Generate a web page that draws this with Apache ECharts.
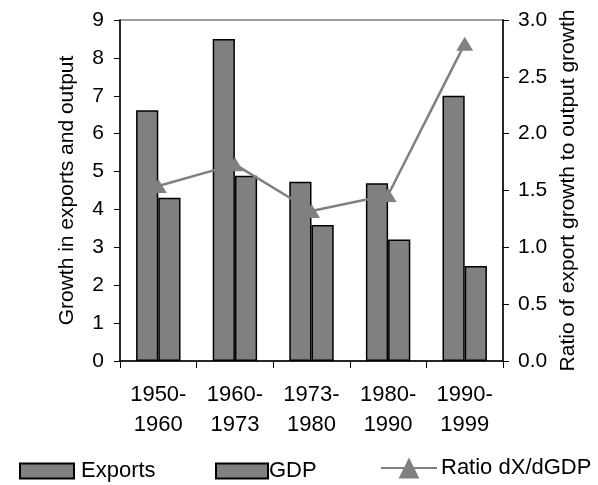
<!DOCTYPE html>
<html>
<head>
<meta charset="utf-8">
<script src="https://cdn.jsdelivr.net/npm/echarts@6/dist/echarts.min.js"></script>
<style>html,body{margin:0;padding:0;background:#fff;}#c{width:598px;height:485px;}</style>
</head>
<body>
<div id="c"></div>
<script>
const categories = ['1950-\n1960', '1960-\n1973', '1973-\n1980', '1980-\n1990', '1990-\n1999'];
const exportsGrowth = [6.62, 8.5, 4.73, 4.69, 7.0];
const gdpGrowth = [4.31, 4.89, 3.59, 3.21, 2.51];
const ratio = [1.54, 1.73, 1.32, 1.46, 2.79];
const leftTicks = [0, 9, 1];
const rightTicks = [0, 3, 0.5];

const font = 'Liberation Sans, Arial, sans-serif';
const chart = echarts.init(document.getElementById('c'));
const barStyle = { color: '#808080', borderColor: '#000', borderWidth: 1.5 };
const legText = { fontFamily: font, fontSize: 22, color: '#000' };
chart.setOption({
  animation: false,
  textStyle: { fontFamily: font },
  grid: { left: 120, right: 95, top: 20, bottom: 124, show: true, borderColor: '#808080', borderWidth: 1.5, backgroundColor: 'transparent' },
  legend: [
    { data: [{ name: 'Exports', icon: 'rect' }], left: 14, top: 455, itemWidth: 54, itemHeight: 15, textStyle: Object.assign({}, legText, { padding: [0,0,0,2] }) },
    { data: [{ name: 'GDP', icon: 'rect' }], left: 210, top: 455, itemWidth: 52, itemHeight: 15, textStyle: Object.assign({}, legText, { padding: [0,0,0,-4] }) },
    { data: ['Ratio dX/dGDP'], left: 375, top: 452, itemWidth: 56, itemHeight: 26, textStyle: Object.assign({}, legText, { padding: [0,0,0,-1] }) }
  ],
  xAxis: {
    type: 'category', data: categories,
    axisLine: { lineStyle: { color: '#000', width: 1.5 } },
    axisTick: { show: true, length: 7, lineStyle: { color: '#000' } },
    axisLabel: { color: '#000', fontSize: 22, lineHeight: 30, margin: 19, fontFamily: font }
  },
  yAxis: [
    {
      type: 'value', min: leftTicks[0], max: leftTicks[1], interval: leftTicks[2],
      name: 'Growth in exports and output', nameLocation: 'middle', nameGap: 42,
      nameTextStyle: { color: '#000', fontSize: 21, fontFamily: font },
      axisLine: { show: true, lineStyle: { color: '#000', width: 1.5 } },
      axisTick: { show: true, length: 6, lineStyle: { color: '#000' } },
      axisLabel: { color: '#000', fontSize: 21, margin: 16, fontFamily: font },
      splitLine: { show: false }
    },
    {
      type: 'value', min: rightTicks[0], max: rightTicks[1], interval: rightTicks[2], position: 'right',
      name: 'Ratio of export growth to output growth', nameLocation: 'middle', nameGap: 55, nameRotate: 90,
      nameTextStyle: { color: '#000', fontSize: 21, fontFamily: font },
      axisLine: { show: true, lineStyle: { color: '#000', width: 1.5 } },
      axisTick: { show: true, length: 6, lineStyle: { color: '#000' } },
      axisLabel: { color: '#000', fontSize: 21, margin: 15, fontFamily: font, formatter: v => v.toFixed(1) },
      splitLine: { show: false }
    }
  ],
  series: [
    { name: 'Exports', type: 'bar', data: exportsGrowth, barGap: '0%', barCategoryGap: '42%', itemStyle: barStyle },
    { name: 'GDP', type: 'bar', data: gdpGrowth, itemStyle: barStyle },
    { name: 'Ratio dX/dGDP', type: 'line', yAxisIndex: 1, data: ratio, symbol: 'triangle', symbolSize: [17, 14],
      lineStyle: { color: '#808080', width: 2.5 }, itemStyle: { color: '#808080' } }
  ]
});
</script>
</body>
</html>
